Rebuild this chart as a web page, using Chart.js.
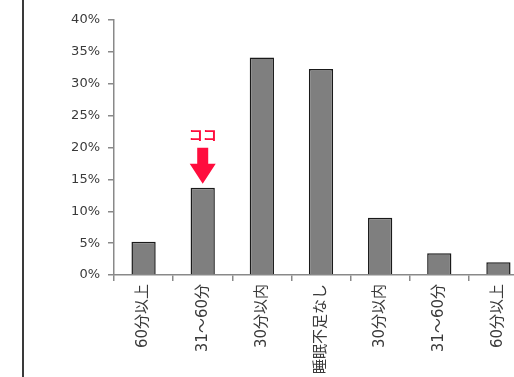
<!DOCTYPE html>
<html>
<head>
<meta charset="utf-8">
<script src="https://cdn.jsdelivr.net/npm/chart.js@4"></script>
<style>
  html, body { margin: 0; padding: 0; background: #fff; overflow: hidden; }
  body { width: 514px; height: 377px; position: relative; }
  #leftLine { position: absolute; left: 22px; top: 0; width: 2px; height: 377px; background: #3a3a3a; }
  #wrap { position: absolute; left: 0; top: 0; width: 540px; height: 377px; }
</style>
</head>
<body>
<div id="leftLine"></div>
<div id="wrap"><canvas id="chart"></canvas></div>
<script>
// data
const categories = ['60分以上', '31～60分', '30分以内', '睡眠不足なし', '30分以内', '31～60分', '60分以上'];
const shares = [5.2, 13.7, 34.1, 32.3, 9.0, 3.4, 2.0];
const yTicks = [0, 5, 10, 15, 20, 25, 30, 35, 40];
const markIndex = 1;
const markLabel = 'ココ';

const axisColor = '#898989';
const markColor = '#ff0d3d';

// red "ココ" + arrow pointing at the highlighted bar
const arrowPlugin = {
    id: 'arrowMark',
    afterDatasetsDraw(chart) {
        const bar = chart.getDatasetMeta(0).data[markIndex];
        const ctx = chart.ctx;
        const cx = bar.x;
        const tip = bar.y - 4;
        ctx.save();
        ctx.fillStyle = markColor;
        ctx.beginPath();
        ctx.moveTo(cx - 5.5, tip - 36);
        ctx.lineTo(cx + 5.5, tip - 36);
        ctx.lineTo(cx + 5.5, tip - 20);
        ctx.lineTo(cx + 13, tip - 20);
        ctx.lineTo(cx, tip);
        ctx.lineTo(cx - 13, tip - 20);
        ctx.lineTo(cx - 5.5, tip - 20);
        ctx.closePath();
        ctx.fill();
        ctx.font = 'bold 14px "Noto Sans CJK JP"';
        ctx.textAlign = 'center';
        ctx.textBaseline = 'middle';
        ctx.fillText(markLabel, cx, tip - 49);
        ctx.restore();
    }
};

new Chart(document.getElementById('chart'), {
    type: 'bar',
    data: {
        labels: categories,
        datasets: [{
            data: shares,
            backgroundColor: '#7f7f7f',
            borderColor: '#1a1a1a',
            borderWidth: 1.5,
            barPercentage: 0.41,
            categoryPercentage: 1
        }]
    },
    options: {
        responsive: true,
        maintainAspectRatio: false,
        animation: false,
        layout: { padding: { top: 20, right: 12, left: 0, bottom: 0 } },
        plugins: { legend: { display: false }, tooltip: { enabled: false } },
        scales: {
            x: {
                grid: { drawOnChartArea: false, color: axisColor, lineWidth: 1.5, tickLength: 6 },
                border: { color: axisColor, width: 1.5 },
                ticks: {
                    minRotation: 90, maxRotation: 90, autoSkip: false,
                    color: '#3a3a3a',
                    padding: 3,
                    font: { family: '"DejaVu Sans", "Noto Sans CJK JP"', size: 15 }
                },
                afterFit: s => { s.height = 102; }
            },
            y: {
                min: 0, max: 40,
                grid: { drawOnChartArea: false, color: axisColor, lineWidth: 1.5, tickLength: 6 },
                border: { color: axisColor, width: 1.5 },
                afterBuildTicks: s => { s.ticks = yTicks.map(v => ({ value: v })); },
                ticks: {
                    color: '#3a3a3a',
                    padding: 8,
                    font: { family: '"DejaVu Sans"', size: 13 },
                    callback: v => v + '%'
                },
                afterFit: s => { s.width = 114; }
            }
        }
    },
    plugins: [arrowPlugin]
});
</script>
</body>
</html>
